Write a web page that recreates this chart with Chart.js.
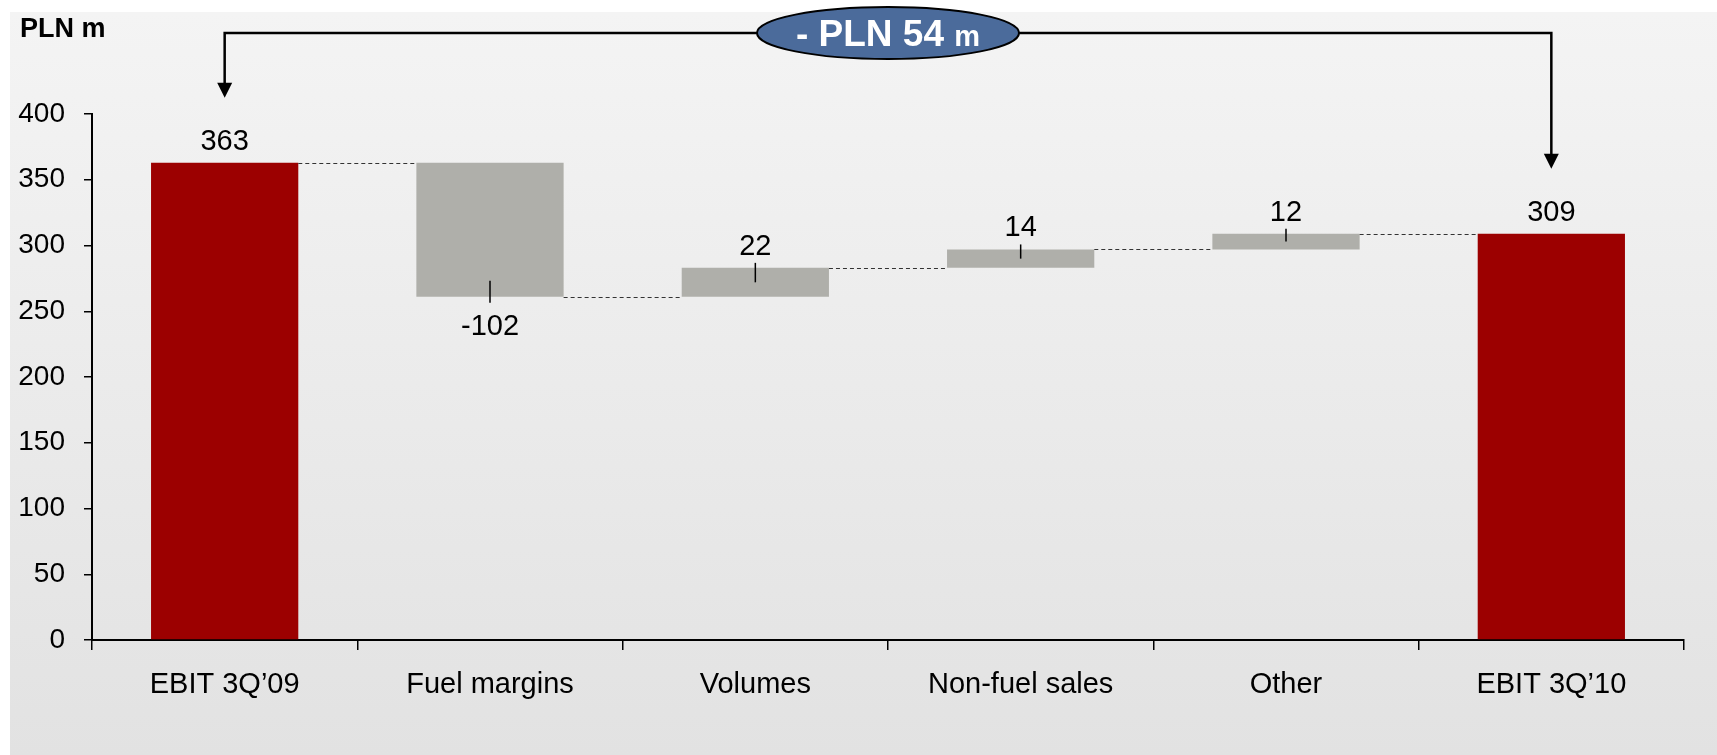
<!DOCTYPE html>
<html>
<head>
<meta charset="utf-8">
<script src="https://cdn.jsdelivr.net/npm/chart.js@4.4.0/dist/chart.umd.min.js"></script>
<style>
    html, body { margin: 0; padding: 0; background: #ffffff; }
    #wrap { width: 1717px; height: 755px; }
</style>
</head>
<body>
<div id="wrap"><canvas id="chart"></canvas></div>
<script>
// Data
const categories = ['EBIT 3Q\u201909', 'Fuel margins', 'Volumes', 'Non-fuel sales', 'Other', 'EBIT 3Q\u201910'];
const changes = [363, -102, 22, 14, 12, 309];
const isTotal = [true, false, false, false, false, true];
const yMin = 0;
const yMax = 400;
const yStep = 50;
const unitLabel = 'PLN m';
const bubbleMain = '- PLN 54';
const bubbleUnit = 'm';

const colors = {
    total: '#9c0000',
    delta: '#afafaa',
    text: '#000000',
    bubble: '#4b6b9b'
};
const fontFamily = "'Liberation Sans', Arial, sans-serif";

// floating bar ranges from the running total
let running = 0;
const ranges = changes.map((v, i) => {
    if (isTotal[i]) { running = v; return [0, v]; }
    const start = running;
    running += v;
    return [start, running];
});

const waterfallPlugin = {
    id: 'waterfall',
    beforeDraw(chart) {
        const ctx = chart.ctx;
        ctx.save();
        ctx.fillStyle = '#ffffff';
        ctx.fillRect(0, 0, chart.width, chart.height);
        const g = ctx.createLinearGradient(0, 12, 0, chart.height);
        g.addColorStop(0, '#f4f4f4');
        g.addColorStop(1, '#e2e2e2');
        ctx.fillStyle = g;
        ctx.fillRect(10, 12, chart.width - 10, chart.height - 12);
        ctx.restore();
    },
    afterDatasetsDraw(chart) {
        const ctx = chart.ctx;
        const y = chart.scales.y;
        const bars = chart.getDatasetMeta(0).data;
        ctx.save();

        // dashed connectors
        ctx.strokeStyle = '#333333';
        ctx.lineWidth = 1;
        ctx.setLineDash([4, 3]);
        for (let i = 0; i < bars.length - 1; i++) {
            const level = Math.round(y.getPixelForValue(ranges[i][1])) + 0.5;
            ctx.beginPath();
            ctx.moveTo(bars[i].x + bars[i].width / 2, level);
            ctx.lineTo(bars[i + 1].x - bars[i + 1].width / 2, level);
            ctx.stroke();
        }
        ctx.setLineDash([]);

        // value labels + leader ticks
        ctx.fillStyle = colors.text;
        ctx.font = '29px ' + fontFamily;
        ctx.textAlign = 'center';
        ctx.textBaseline = 'alphabetic';
        bars.forEach((bar, i) => {
            const top = Math.min(bar.y, bar.base);
            const bottom = Math.max(bar.y, bar.base);
            const h = bottom - top;
            const v = changes[i];
            if (v >= 0) {
                ctx.fillText(String(v), bar.x, top - 13);
                if (!isTotal[i]) {
                    ctx.lineWidth = 1.5;
                    ctx.strokeStyle = '#000';
                    ctx.beginPath();
                    ctx.moveTo(bar.x, top - 5);
                    ctx.lineTo(bar.x, top + Math.min(15, h * 0.5));
                    ctx.stroke();
                }
            } else {
                ctx.fillText(String(v), bar.x, bottom + 38);
                ctx.lineWidth = 1.5;
                ctx.strokeStyle = '#000';
                ctx.beginPath();
                ctx.moveTo(bar.x, bottom - 16);
                ctx.lineTo(bar.x, bottom + 6);
                ctx.stroke();
            }
        });

        // unit label
        ctx.textAlign = 'left';
        ctx.font = 'bold 27px ' + fontFamily;
        ctx.fillText(unitLabel, 20, 37);

        // bracket with arrows
        const first = bars[0];
        const last = bars[bars.length - 1];
        const lineY = 33;
        const tipL = Math.min(first.y, first.base) - 65;
        const tipR = Math.min(last.y, last.base) - 65;
        ctx.strokeStyle = '#000';
        ctx.fillStyle = '#000';
        ctx.lineWidth = 2.5;
        ctx.beginPath();
        ctx.moveTo(first.x, tipL - 12);
        ctx.lineTo(first.x, lineY);
        ctx.lineTo(last.x, lineY);
        ctx.lineTo(last.x, tipR - 12);
        ctx.stroke();
        [[first.x, tipL], [last.x, tipR]].forEach(([ax, ay]) => {
            ctx.beginPath();
            ctx.moveTo(ax - 7.5, ay - 15);
            ctx.lineTo(ax + 7.5, ay - 15);
            ctx.lineTo(ax, ay);
            ctx.closePath();
            ctx.fill();
        });

        // bubble
        const cx = (chart.chartArea.left + chart.chartArea.right) / 2;
        ctx.beginPath();
        ctx.ellipse(cx, lineY, 131, 26, 0, 0, Math.PI * 2);
        ctx.fillStyle = colors.bubble;
        ctx.fill();
        ctx.lineWidth = 2;
        ctx.strokeStyle = '#000';
        ctx.stroke();

        ctx.fillStyle = '#ffffff';
        const mainFont = 'bold 37px ' + fontFamily;
        const unitFont = 'bold 29px ' + fontFamily;
        ctx.font = mainFont;
        const w1 = ctx.measureText(bubbleMain + ' ').width;
        ctx.font = unitFont;
        const w2 = ctx.measureText(bubbleUnit).width;
        const startX = cx - (w1 + w2) / 2;
        ctx.textAlign = 'left';
        ctx.font = mainFont;
        ctx.fillText(bubbleMain, startX, lineY + 13);
        ctx.font = unitFont;
        ctx.fillText(bubbleUnit, startX + w1, lineY + 13);

        ctx.restore();
    }
};

new Chart(document.getElementById('chart'), {
    type: 'bar',
    data: {
        labels: categories,
        datasets: [{
            data: ranges,
            backgroundColor: isTotal.map(t => t ? colors.total : colors.delta),
            borderWidth: 0,
            barPercentage: 0.555,
            categoryPercentage: 1.0
        }]
    },
    options: {
        responsive: true,
        maintainAspectRatio: false,
        animation: false,
        layout: {
            padding: { left: 0, right: 33, top: 114, bottom: 0 }
        },
        plugins: {
            legend: { display: false },
            tooltip: { enabled: false }
        },
        scales: {
            x: {
                grid: {
                    offset: true,
                    drawOnChartArea: false,
                    drawTicks: true,
                    tickLength: 10,
                    color: '#000',
                    lineWidth: 1.5
                },
                border: { display: true, color: '#000', width: 2 },
                ticks: {
                    color: colors.text,
                    font: { family: fontFamily, size: 29 },
                    padding: 18,
                    maxRotation: 0,
                    autoSkip: false
                },
                afterFit(scale) { scale.height = 115; }
            },
            y: {
                min: yMin,
                max: yMax,
                grid: {
                    drawOnChartArea: false,
                    drawTicks: true,
                    tickLength: 8,
                    color: '#000',
                    lineWidth: 1.5
                },
                border: { display: true, color: '#000', width: 2 },
                ticks: {
                    stepSize: yStep,
                    color: colors.text,
                    font: { family: fontFamily, size: 28 },
                    padding: 19
                },
                afterFit(scale) { scale.width = 92; }
            }
        }
    },
    plugins: [waterfallPlugin]
});
</script>
</body>
</html>
